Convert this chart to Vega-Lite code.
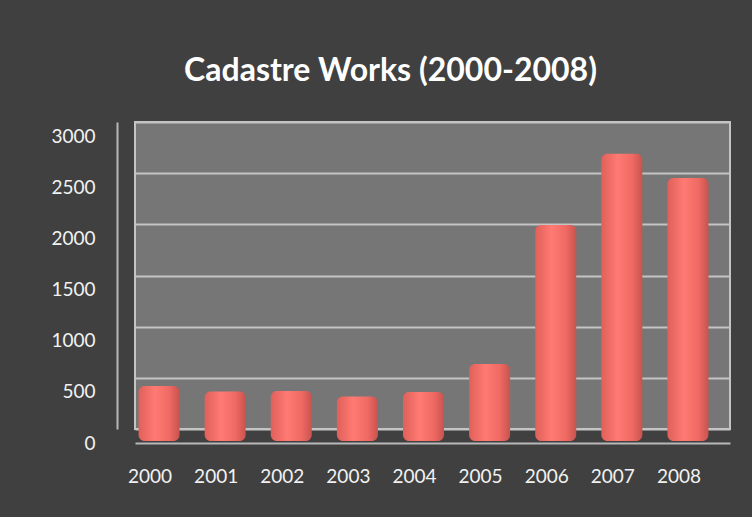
{
  "$schema": "https://vega.github.io/schema/vega-lite/v6.json",
  "width": 595,
  "height": 307,
  "autosize": {"type": "none"},
  "padding": {"left": 135, "top": 122, "right": 22, "bottom": 88},
  "background": "#404040",
  "title": {
    "text": "Cadastre Works (2000-2008)",
    "color": "#ffffff",
    "font": "Lato",
    "fontSize": 32,
    "fontWeight": "bold",
    "anchor": "middle",
    "dx": -42,
    "offset": 34
  },
  "config": {
    "view": {"fill": "#767676", "stroke": "#c4c4c4", "strokeWidth": 2},
    "axis": {
      "labelFont": "Lato",
      "labelFontSize": 19,
      "labelColor": "#f2f2f2",
      "ticks": false,
      "domainColor": "#b8b8b8",
      "domainWidth": 2,
      "title": null
    }
  },
  "data": {
    "values": [
      {"year": "2000", "works": 430},
      {"year": "2001", "works": 376},
      {"year": "2002", "works": 381},
      {"year": "2003", "works": 327},
      {"year": "2004", "works": 371},
      {"year": "2005", "works": 645},
      {"year": "2006", "works": 2003},
      {"year": "2007", "works": 2700},
      {"year": "2008", "works": 2462}
    ]
  },
  "mark": {
    "type": "bar",
    "size": 41,
    "xOffset": -9,
    "yOffset": 1,
    "y2Offset": 12,
    "cornerRadius": 6,
    "color": {
      "gradient": "linear",
      "x1": 0, "y1": 0, "x2": 1, "y2": 0,
      "stops": [
        {"offset": 0, "color": "#e0605a"},
        {"offset": 0.4, "color": "#ff7a73"},
        {"offset": 0.75, "color": "#f06a64"},
        {"offset": 1, "color": "#c8534e"}
      ]
    }
  },
  "encoding": {
    "x": {
      "field": "year",
      "type": "nominal",
      "sort": null,
      "scale": {"paddingInner": 0, "paddingOuter": 0},
      "axis": {"labelAngle": 0, "offset": 14, "labelPadding": 24, "labelOffset": -18, "grid": false}
    },
    "y": {
      "field": "works",
      "type": "quantitative",
      "scale": {"domain": [0, 3000], "nice": false},
      "axis": {
        "values": [0, 500, 1000, 1500, 2000, 2500, 3000],
        "format": "d",
        "offset": 18,
        "labelPadding": 22,
        "labelOffset": 14,
        "grid": true,
        "gridColor": "#c4c4c4",
        "gridWidth": 2,
        "gridOpacity": 1
      }
    },
    "y2": {"datum": 0}
  }
}
